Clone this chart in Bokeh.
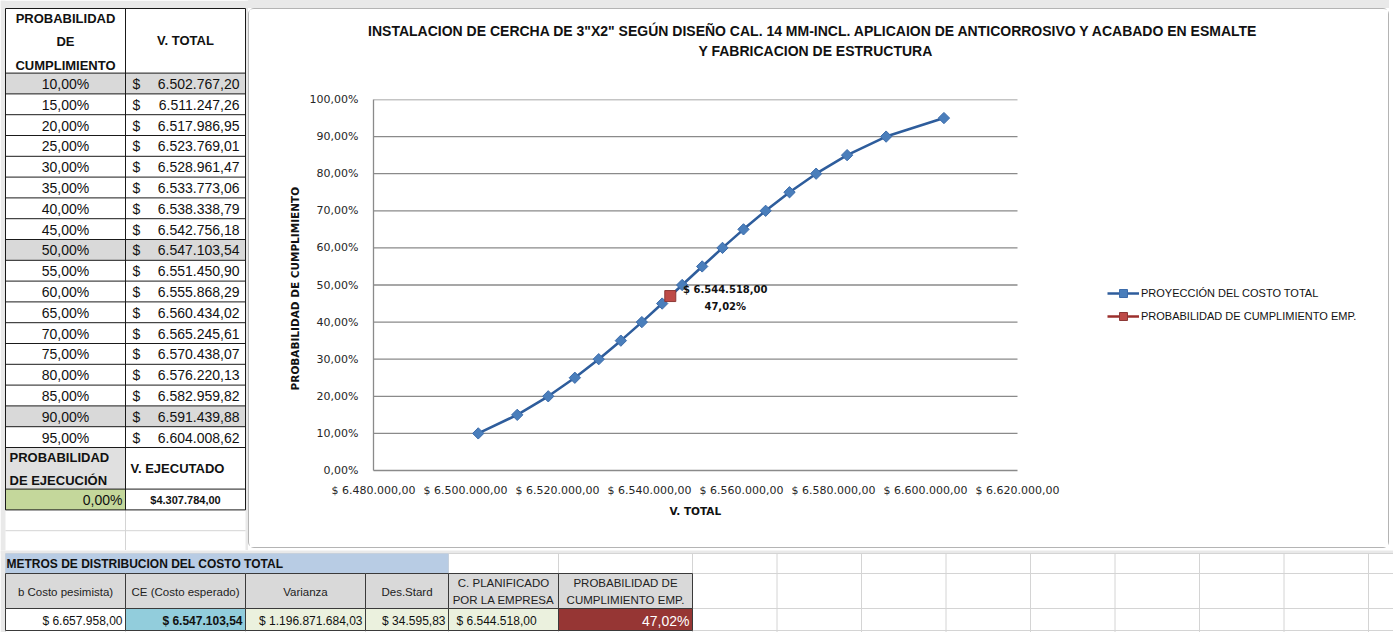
import numpy as np
from bokeh.plotting import figure
from bokeh.models import Range1d, FixedTicker, Legend, LegendItem, Spacer, Title
from bokeh.layouts import row, column
from bokeh.embed import file_html
from bokeh.resources import INLINE
from bokeh.core.properties import value

# ---------------- data ----------------
prob = [10, 15, 20, 25, 30, 35, 40, 45, 50, 55, 60, 65, 70, 75, 80, 85, 90, 95]
v_total = [6502767.20, 6511247.26, 6517986.95, 6523769.01, 6528961.47, 6533773.06,
           6538338.79, 6542756.18, 6547103.54, 6551450.90, 6555868.29, 6560434.02,
           6565245.61, 6570438.07, 6576220.13, 6582959.82, 6591439.88, 6604008.62]
highlight_rows = [0, 8, 16]
plan_cost = [6544518.00]
plan_prob = [47.02]
plan_label = ["$ 6.544.518,00\n47,02%"]
exec_prob_label = "0,00%"
exec_value_label = "$4.307.784,00"

title_lines = ["INSTALACION DE CERCHA DE 3\"X2\" SEGÚN DISEÑO CAL. 14 MM-INCL.  APLICAION DE ANTICORROSIVO Y ACABADO EN ESMALTE",
               "Y FABRICACION DE ESTRUCTURA"]
x_axis_title = "V. TOTAL"
y_axis_title = "PROBABILIDAD  DE  CUMPLIMIENTO"
x_ticks = [6480000, 6500000, 6520000, 6540000, 6560000, 6580000, 6600000, 6620000]
x_tick_labels = ["$ 6.480.000,00", "$ 6.500.000,00", "$ 6.520.000,00", "$ 6.540.000,00",
                 "$ 6.560.000,00", "$ 6.580.000,00", "$ 6.600.000,00", "$ 6.620.000,00"]
y_ticks = [0, 10, 20, 30, 40, 50, 60, 70, 80, 90, 100]
y_tick_labels = ["0,00%", "10,00%", "20,00%", "30,00%", "40,00%", "50,00%",
                 "60,00%", "70,00%", "80,00%", "90,00%", "100,00%"]
series_names = ["PROYECCIÓN DEL COSTO TOTAL", "PROBABILIDAD DE CUMPLIMIENTO EMP."]

left_headers = ["PROBABILIDAD\nDE\nCUMPLIMIENTO", "V. TOTAL"]
exec_headers = ["PROBABILIDAD\nDE EJECUCIÓN", "V. EJECUTADO"]

dist_title = "METROS DE DISTRIBUCION DEL COSTO TOTAL"
dist_headers = ["b Costo pesimista)", "CE (Costo esperado)", "Varianza", "Des.Stard",
                "C. PLANIFICADO\nPOR LA EMPRESA", "PROBABILIDAD DE\nCUMPLIMIENTO EMP."]
dist_values = ["$ 6.657.958,00", "$ 6.547.103,54", "$ 1.196.871.684,03", "$ 34.595,83",
               "$ 6.544.518,00", "47,02%"]


def fmt_pct(v):
    return f"{v:.2f}".replace(".", ",") + "%"


def fmt_num(v):
    s = f"{v:,.2f}"
    return s.replace(",", "X").replace(".", ",").replace("X", ".")


CELL_FONT = "Liberation Sans"
AX_FONT = "DejaVu Sans"
SHEET_GRAY = "#e9e9e9"

# ---------------- left table ----------------
lt = figure(width=248, height=550, x_range=Range1d(0, 248), y_range=Range1d(550, 0),
            x_axis_type=None, y_axis_type=None, output_backend="svg",
            toolbar_location=None, min_border=0)
lt.grid.visible = False
lt.outline_line_color = None
lt.background_fill_color = "white"
lt.border_fill_color = "white"

cx = [5, 125, 245]
head_top, head_bot = 8, 72.6
rh = 20.8
n = len(prob)
tops = [head_bot + rh * i for i in range(n)]
bots = [t + rh for t in tops]
ex_top = bots[-1]
ex_mid = ex_top + 2 * rh
ex_bot = ex_mid + rh

lt.quad(left=[0, 0, cx[2]], right=[248, cx[0], 248], top=[0, 0, 0], bottom=[head_top, 550, 550],
        fill_color=SHEET_GRAY, line_color=None)
lt.quad(left=[cx[0]] * len(highlight_rows), right=[cx[2]] * len(highlight_rows),
        top=[tops[i] for i in highlight_rows], bottom=[bots[i] for i in highlight_rows],
        fill_color="#d9d9d9", line_color=None)
lt.quad(left=[cx[0]], right=[cx[1]], top=[ex_top], bottom=[ex_mid], fill_color="#e0e0e0", line_color=None)
lt.quad(left=[cx[0]], right=[cx[1]], top=[ex_mid], bottom=[ex_bot], fill_color="#c4d79b", line_color=None)

lt.segment(x0=[cx[0], cx[0]], x1=[cx[2], cx[2]], y0=[ex_bot + rh, ex_bot + 2 * rh],
           y1=[ex_bot + rh, ex_bot + 2 * rh], line_color="#d4d4d4", line_width=1)
lt.segment(x0=[cx[1]], x1=[cx[1]], y0=[ex_bot], y1=[560], line_color="#d4d4d4", line_width=1)

hy = [head_top, head_bot] + bots + [ex_mid, ex_bot]
lt.segment(x0=[cx[0]] * len(hy), x1=[cx[2]] * len(hy), y0=hy, y1=hy, line_color="#1a1a1a", line_width=1)
lt.segment(x0=cx, x1=cx, y0=[head_top] * 3, y1=[ex_bot] * 3, line_color="#1a1a1a", line_width=1)

lt.text(x=[(cx[0] + cx[1]) / 2], y=[(head_top + head_bot) / 2 + 1], text=[left_headers[0]],
        text_align="center", text_baseline="middle", text_font=value(CELL_FONT),
        text_font_size="13px", text_font_style="bold", text_line_height=1.55, text_color="#111111")
lt.text(x=[(cx[1] + cx[2]) / 2], y=[(head_top + head_bot) / 2], text=[left_headers[1]],
        text_align="center", text_baseline="middle", text_font=value(CELL_FONT),
        text_font_size="13px", text_font_style="bold", text_color="#111111")
mids = [(t + b) / 2 + 0.5 for t, b in zip(tops, bots)]
lt.text(x=[(cx[0] + cx[1]) / 2] * n, y=mids, text=[fmt_pct(v) for v in prob],
        text_align="center", text_baseline="middle", text_font=value(CELL_FONT),
        text_font_size="14px", text_color="#111111")
lt.text(x=[cx[1] + 7] * n, y=mids, text=["$"] * n,
        text_align="left", text_baseline="middle", text_font=value(CELL_FONT),
        text_font_size="14px", text_color="#111111")
lt.text(x=[cx[2] - 6] * n, y=mids, text=[fmt_num(v) for v in v_total],
        text_align="right", text_baseline="middle", text_font=value(CELL_FONT),
        text_font_size="14px", text_color="#111111")
lt.text(x=[cx[0] + 4], y=[(ex_top + ex_mid) / 2 + 1], text=[exec_headers[0]],
        text_align="left", text_baseline="middle", text_font=value(CELL_FONT),
        text_font_size="13px", text_font_style="bold", text_line_height=1.55, text_color="#111111")
lt.text(x=[cx[1] + 5], y=[(ex_top + ex_mid) / 2], text=[exec_headers[1]],
        text_align="left", text_baseline="middle", text_font=value(CELL_FONT),
        text_font_size="13px", text_font_style="bold", text_color="#111111")
lt.text(x=[cx[1] - 3], y=[(ex_mid + ex_bot) / 2 + 0.5], text=[exec_prob_label],
        text_align="right", text_baseline="middle", text_font=value(CELL_FONT),
        text_font_size="14px", text_color="#111111")
lt.text(x=[(cx[1] + cx[2]) / 2], y=[(ex_mid + ex_bot) / 2 + 0.5], text=[exec_value_label],
        text_align="center", text_baseline="middle", text_font=value(CELL_FONT),
        text_font_size="11px", text_font_style="bold", text_color="#111111")

# ---------------- chart title strip ----------------
BOX_L, BOX_R, BOX_T = 249, 1388, 9
TITLE_H = 80
tf = figure(width=BOX_R - BOX_L, height=TITLE_H, x_range=Range1d(BOX_L, BOX_R),
            y_range=Range1d(BOX_T + TITLE_H, BOX_T), x_axis_type=None, y_axis_type=None,
            output_backend="svg", toolbar_location=None, min_border=0)
tf.grid.visible = False
tf.outline_line_color = None
tf.background_fill_color = "white"
tf.border_fill_color = "white"
tf.text(x=[815, 815], y=[30.5, 50.5], text=title_lines, text_align="center",
        text_baseline="middle", text_font=value(CELL_FONT), text_font_size="14px",
        text_font_style="bold", text_color="#111111")

# ---------------- chart ----------------
FRAME_L, FRAME_R_DATA, FRAME_R = 373, 1017, 1383
px_per_unit = (FRAME_R_DATA - FRAME_L) / (x_ticks[-1] - x_ticks[0])
x_end = x_ticks[0] + (FRAME_R - FRAME_L) / px_per_unit
P_H = 547 - (BOX_T + TITLE_H)
p = figure(width=BOX_R - BOX_L, height=P_H, x_range=Range1d(x_ticks[0], x_end),
           y_range=Range1d(y_ticks[0], y_ticks[-1]), output_backend="svg",
           toolbar_location=None, min_border_left=FRAME_L - BOX_L,
           min_border_right=BOX_R - FRAME_R,
           min_border_top=99 - (BOX_T + TITLE_H), min_border_bottom=547 - 470)
p.outline_line_color = None
p.background_fill_color = "white"
p.border_fill_color = "white"
p.grid.visible = False

# horizontal gridlines limited to the axis span
p.segment(x0=[x_ticks[0]] * (len(y_ticks) - 1), x1=[x_ticks[-1]] * (len(y_ticks) - 1),
          y0=y_ticks[1:], y1=y_ticks[1:], line_color="#8a8a8a", line_width=1.3)

p.xaxis.ticker = FixedTicker(ticks=x_ticks)
p.xaxis.major_label_overrides = dict(zip(x_ticks, x_tick_labels))
p.xaxis.bounds = (x_ticks[0], x_ticks[-1])
p.yaxis.ticker = FixedTicker(ticks=y_ticks)
p.yaxis.major_label_overrides = dict(zip(y_ticks, y_tick_labels))
for ax in (p.xaxis[0], p.yaxis[0]):
    ax.axis_line_color = "#8a8a8a"
    ax.axis_line_width = 1.3
    ax.major_tick_line_color = None
    ax.minor_tick_line_color = None
    ax.major_tick_out = 0
    ax.major_tick_in = 0
    ax.minor_tick_out = 0
    ax.major_label_text_font = AX_FONT
    ax.major_label_text_font_size = "11px"
    ax.major_label_text_color = "#262626"
    ax.axis_label_text_font = AX_FONT
    ax.axis_label_text_font_style = "bold"
    ax.axis_label_text_font_size = "10.5px"
    ax.axis_label_text_color = "#111111"
p.yaxis.axis_label = y_axis_title
p.xaxis.major_label_standoff = 13
p.yaxis.major_label_standoff = 15
p.yaxis.axis_label_standoff = 6

# x-axis title placed under the middle of the axis span (not of the whole frame)
XT_HALF_W = 26
axis_mid_px = FRAME_L + (FRAME_R_DATA - FRAME_L) / 2
xt = Title(text=x_axis_title, align="left", offset=axis_mid_px - XT_HALF_W - FRAME_L,
           text_font=AX_FONT, text_font_size="10.5px", text_font_style="bold",
           text_color="#111111", standoff=6)
p.add_layout(xt, "below")

blue_line = p.line(v_total, prob, line_color="#2e5d9c", line_width=2.6)
blue_pts = p.scatter(v_total, prob, marker="square", angle=np.pi / 4, size=8,
                     fill_color="#4a7ebb", line_color="#3c6cab", line_width=1)
red_line = p.line(plan_cost, plan_prob, line_color="#9c2f2c", line_width=2.6)
red_pts = p.scatter(plan_cost, plan_prob, marker="square", size=11,
                    fill_color="#be4b48", line_color="#8c3836", line_width=1)
p.text(x=plan_cost, y=plan_prob, text=plan_label, x_offset=55, y_offset=1.5, text_align="center",
       text_baseline="middle", text_font=value(AX_FONT), text_font_size="10px",
       text_font_style="bold", text_line_height=1.55, text_color="#111111")

legend = Legend(items=[LegendItem(label=series_names[0], renderers=[blue_line, blue_pts]),
                       LegendItem(label=series_names[1], renderers=[red_line, red_pts])],
                location=(1107 - FRAME_L, 470 - 326), glyph_width=32, glyph_height=20, spacing=3,
                padding=10, margin=0, label_standoff=2, border_line_color=None,
                background_fill_alpha=0, label_text_font=CELL_FONT,
                label_text_font_size="11px", label_text_color="#111111")
p.add_layout(legend)

chart_box = column(row(tf), p, styles={"border": "1px solid #b4b4b4", "border-radius": "6px",
                                       "background-color": "white"})
chart_col = column(Spacer(width=BOX_R - BOX_L + 2, height=8, styles={"background-color": SHEET_GRAY}),
                   chart_box)

# ---------------- bottom table ----------------
bt = figure(width=1393, height=82, x_range=Range1d(0, 1393), y_range=Range1d(632, 550),
            x_axis_type=None, y_axis_type=None, output_backend="svg",
            toolbar_location=None, min_border=0)
bt.grid.visible = False
bt.outline_line_color = None
bt.background_fill_color = "white"
bt.border_fill_color = "white"

bx = [5, 125, 245, 365, 448, 558, 692]
extra = [692 + 84.5 * k for k in range(1, 9)]
r0, r1, r2, r3 = 553, 573, 608, 630
fills = ["white", "#92cddc", "#ebf1de", "#ebf1de", "#ebf1de", "#963634"]

bt.quad(left=[0, 0], right=[1393, bx[0]], top=[540, 540], bottom=[r0, 640],
        fill_color=SHEET_GRAY, line_color=None)
gx = bx + extra
bt.segment(x0=gx, x1=gx, y0=[r0] * len(gx), y1=[r3 + 5] * len(gx), line_color="#d4d4d4", line_width=1)
bt.segment(x0=[bx[0]] * 4, x1=[1393] * 4, y0=[r0, r1, r2, r3], y1=[r0, r1, r2, r3],
           line_color="#d4d4d4", line_width=1)
bt.quad(left=[bx[0]], right=[bx[4]], top=[r0], bottom=[r1], fill_color="#b8cce4", line_color=None)
bt.text(x=[bx[0] + 1], y=[(r0 + r1) / 2 + 0.5], text=[dist_title], text_align="left",
        text_baseline="middle", text_font=value(CELL_FONT), text_font_size="12px",
        text_font_style="bold", text_color="#111111")
bt.quad(left=bx[:-1], right=bx[1:], top=[r1] * 6, bottom=[r2] * 6, fill_color="#d9d9d9",
        line_color="#3a3a3a", line_width=1)
bt.quad(left=bx[:-1], right=bx[1:], top=[r2] * 6, bottom=[r3] * 6, fill_color=fills,
        line_color="#3a3a3a", line_width=1)
hx = [(a + b) / 2 for a, b in zip(bx[:-1], bx[1:])]
bt.text(x=hx, y=[(r1 + r2) / 2 + 0.5] * 6, text=dist_headers, text_align="center",
        text_baseline="middle", text_font=value(CELL_FONT), text_font_size="11.5px",
        text_line_height=1.45, text_color="#222222")
vx = [bx[1] - 3, bx[2] - 3, bx[3] - 3, bx[4] - 3, bx[4] + 8]
bt.text(x=vx, y=[(r2 + r3) / 2 + 1] * 5, text=dist_values[:5],
        text_align=["right", "right", "right", "right", "left"], text_baseline="middle",
        text_font=value(CELL_FONT), text_font_size="12px",
        text_font_style=["normal", "bold", "normal", "normal", "normal"], text_color="#111111")
bt.text(x=[bx[6] - 3], y=[(r2 + r3) / 2 + 1], text=[dist_values[5]], text_align="right",
        text_baseline="middle", text_font=value(CELL_FONT), text_font_size="14px",
        text_color="white")

layout = column(row(lt, chart_col), bt)
open("out.html", "w").write(file_html(layout, INLINE))
